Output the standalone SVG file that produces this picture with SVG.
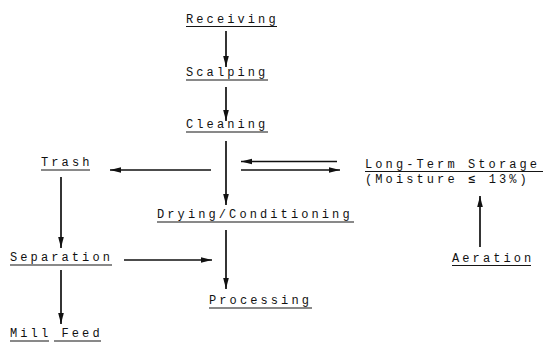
<svg xmlns="http://www.w3.org/2000/svg" width="545" height="343" viewBox="0 0 545 343">
  <defs>
    <marker id="head" markerUnits="userSpaceOnUse" markerWidth="12" markerHeight="8" refX="11" refY="3" orient="auto">
      <path d="M0,0.2 L11,3 L0,5.8 Z" fill="#111"/>
    </marker>
  </defs>
  <style>
    text { font-family: "Liberation Mono", "DejaVu Sans Mono", monospace; font-size: 12px; letter-spacing: 3.1px; fill: #111; }
    .sym { font-weight: bold; }
    .ul { stroke: #151515; stroke-width: 1.2; }
    .flow { stroke: #111; stroke-width: 1.7; fill: none; marker-end: url(#head); }
  </style>
  <rect width="545" height="343" fill="#fff"/>

  <!-- process steps: underlined typewriter labels -->
  <g id="receiving">
    <text x="186" y="23">Receiving</text>
    <line class="ul" x1="186" y1="26.5" x2="277" y2="26.5"/>
  </g>
  <g id="scalping">
    <text x="186" y="76">Scalping</text>
    <line class="ul" x1="186" y1="80" x2="268" y2="80"/>
  </g>
  <g id="cleaning">
    <text x="186" y="128">Cleaning</text>
    <line class="ul" x1="186" y1="132" x2="268" y2="132"/>
  </g>
  <g id="trash">
    <text x="41" y="166">Trash</text>
    <line class="ul" x1="41" y1="170" x2="90" y2="170"/>
  </g>
  <g id="storage">
    <text x="365" y="168">Long-Term Storage</text>
    <line class="ul" x1="365" y1="171.5" x2="543" y2="171.5"/>
    <text x="365" y="183">(Moisture <tspan class="sym">≤</tspan> 13%)</text>
  </g>
  <g id="drying">
    <text x="157" y="218">Drying/Conditioning</text>
    <line class="ul" x1="157" y1="222" x2="354" y2="222"/>
  </g>
  <g id="separation">
    <text x="10" y="261">Separation</text>
    <line class="ul" x1="10" y1="265" x2="112" y2="265"/>
  </g>
  <g id="aeration">
    <text x="452" y="262">Aeration</text>
    <line class="ul" x1="452" y1="265.5" x2="531" y2="265.5"/>
  </g>
  <g id="processing">
    <text x="209" y="304">Processing</text>
    <line class="ul" x1="209" y1="308" x2="312" y2="308"/>
  </g>
  <g id="mill-feed">
    <text x="10" y="337">Mill Feed</text>
    <line class="ul" x1="10" y1="341" x2="49" y2="341"/>
    <line class="ul" x1="54" y1="341" x2="101" y2="341"/>
  </g>

  <!-- flow arrows -->
  <g id="connectors">
    <line class="flow" x1="226" y1="31" x2="226" y2="67"/>
    <line class="flow" x1="226" y1="87" x2="226" y2="121"/>
    <line class="flow" x1="226" y1="141" x2="226" y2="205"/>
    <line class="flow" x1="211" y1="170" x2="110" y2="170"/>
    <line class="flow" x1="337" y1="161.5" x2="241" y2="161.5"/>
    <line class="flow" x1="241" y1="170" x2="340" y2="170"/>
    <line class="flow" x1="61" y1="177" x2="61" y2="248"/>
    <line class="flow" x1="124" y1="260" x2="212" y2="260"/>
    <line class="flow" x1="226" y1="230" x2="226" y2="289"/>
    <line class="flow" x1="61" y1="270" x2="61" y2="324"/>
    <line class="flow" x1="480" y1="247" x2="480" y2="196"/>
  </g>
</svg>
